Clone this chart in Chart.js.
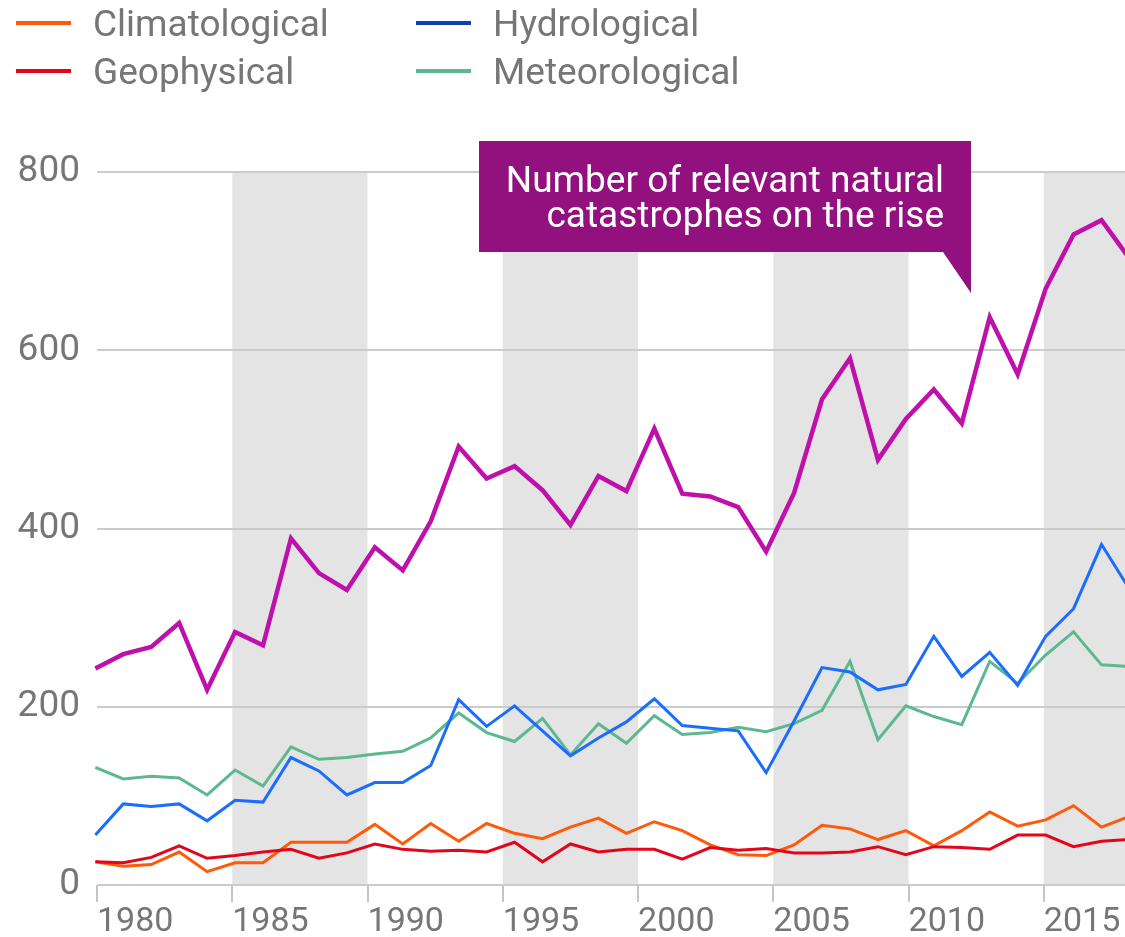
<!DOCTYPE html>
<html>
<head>
<meta charset="utf-8">
<script src="https://cdn.jsdelivr.net/npm/chart.js@4.4.1/dist/chart.umd.min.js"></script>
<style>
  html, body { margin:0; padding:0; background:#fff; }
  #wrap { position:relative; width:1125px; height:937px; }
</style>
</head>
<body>
<div id="wrap"><canvas id="chart" width="1125" height="937"></canvas></div>
<script>
// ==== DATA ====
const years = [1980,1981,1982,1983,1984,1985,1986,1987,1988,1989,
               1990,1991,1992,1993,1994,1995,1996,1997,1998,1999,
               2000,2001,2002,2003,2004,2005,2006,2007,2008,2009,
               2010,2011,2012,2013,2014,2015,2016,2017];

const total          = [243,259,267,294,219,284,269,389,350,331,
                        379,353,408,492,456,470,443,404,459,442,
                        512,439,436,424,374,440,545,591,477,523,
                        556,518,637,573,669,730,746,703];
const climatological = [26,21,23,37,15,25,25,48,48,48,
                        68,46,69,49,69,58,52,65,75,58,
                        71,61,45,34,33,45,67,63,51,61,
                        44,61,82,66,73,89,65,77];
const geophysical    = [26,25,31,44,30,33,37,40,30,36,
                        46,40,38,39,37,48,26,46,37,40,
                        40,29,42,39,41,36,36,37,43,34,
                        43,42,40,56,56,43,49,51];
const hydrological   = [56,91,88,91,72,95,93,143,128,101,
                        115,115,134,208,178,201,173,145,165,183,
                        209,179,176,173,126,184,244,239,219,225,
                        279,234,261,224,279,310,382,332];
const meteorological = [132,119,122,120,101,129,111,155,141,143,
                        147,150,165,193,171,161,187,146,181,159,
                        190,169,171,177,172,181,196,251,163,201,
                        189,180,251,226,258,284,247,245];

const xTicks = [1980,1985,1990,1995,2000,2005,2010,2015];
const yTicks = [0,200,400,600,800];
const shaded = [[1985,1990],[1995,2000],[2005,2010],[2015,2020]];

const legendItems = [
  { label:"Climatological", color:"#ff5a0a" },
  { label:"Geophysical",    color:"#e2061c" },
  { label:"Hydrological",   color:"#0d40b0" },
  { label:"Meteorological", color:"#5cb98f" }
];
const noteLines = ["Number of relevant natural", "catastrophes on the rise"];

// ==== STYLE ====
const FONT = "Roboto, 'Liberation Sans', sans-serif";
const GREY_TEXT = "#767676";

const pts = arr => arr.map((v,i)=>({ x: years[i], y: v }));

// shaded 5-year bands behind everything
const bandsPlugin = {
  id: "bands",
  beforeDraw(chart){
    const { ctx, chartArea:a, scales:{ x } } = chart;
    ctx.save();
    ctx.fillStyle = "#e4e4e4";
    shaded.forEach(([s,e])=>{
      const l = Math.max(x.getPixelForValue(s), a.left);
      const r = Math.min(x.getPixelForValue(e), a.right);
      if (r > l) ctx.fillRect(l, a.top, r-l, a.bottom-a.top);
    });
    ctx.restore();
  }
};

// legend (two columns) + purple callout
const decoPlugin = {
  id: "deco",
  afterDraw(chart){
    const { ctx } = chart;
    ctx.save();
    // legend
    ctx.font = `37px ${FONT}`;
    ctx.textBaseline = "alphabetic";
    ctx.textAlign = "left";
    legendItems.forEach((it, i)=>{
      const col = Math.floor(i/2), row = i%2;
      const lx = col ? 416 : 16;
      const ly = row ? 71 : 23;
      ctx.strokeStyle = it.color;
      ctx.lineWidth = 4;
      ctx.beginPath(); ctx.moveTo(lx, ly); ctx.lineTo(lx+55, ly); ctx.stroke();
      ctx.fillStyle = GREY_TEXT;
      ctx.fillText(it.label, col ? 493 : 93, row ? 84 : 36);
    });

    // callout box
    const L = 479, R = 971, T = 141, B = 252;
    ctx.fillStyle = "#93117e";
    ctx.beginPath();
    ctx.moveTo(L, T); ctx.lineTo(R, T); ctx.lineTo(R, 293);
    ctx.lineTo(943, B); ctx.lineTo(L, B); ctx.closePath();
    ctx.fill();
    ctx.fillStyle = "#ffffff";
    ctx.font = `37px ${FONT}`;
    ctx.textAlign = "right";
    ctx.fillText(noteLines[0], 944, 192);
    ctx.fillText(noteLines[1], 944, 227);
    ctx.restore();
  }
};

const line = (label, data, color, width) => ({
  label, data: pts(data), borderColor: color, backgroundColor: color,
  borderWidth: width, pointRadius: 0, tension: 0, xAxisID: "xd", clip: false
});

new Chart(document.getElementById("chart"), {
  type: "line",
  data: {
    datasets: [
      line("Total", total, "#bf10ab", 4.5),
      line("Geophysical", geophysical, "#e2061c", 3),
      line("Climatological", climatological, "#ff5a0a", 3),
      line("Hydrological", hydrological, "#1a6dff", 3),
      line("Meteorological", meteorological, "#5cb98f", 3)
    ]
  },
  options: {
    responsive: false,
    animation: false,
    devicePixelRatio: 1,
    layout: { padding: { top: 172, left: 0, right: 0, bottom: 0 } },
    plugins: { legend: { display: false }, tooltip: { enabled: false } },
    scales: {
      // data axis (hidden)
      xd: {
        type: "linear", display: false, position: "bottom",
        min: 1980.06, max: 2016.84
      },
      // year ticks
      x: {
        type: "linear", position: "bottom", min: 1980, max: 2018,
        afterBuildTicks: s => { s.ticks = xTicks.map(v=>({ value:v })); },
        afterFit: s => { s.height = 52; },
        ticks: {
          callback: v => String(v), align: "start", autoSkip: false,
          maxRotation: 0, padding: 0, color: GREY_TEXT,
          font: { family: FONT, size: 34 }
        },
        grid: { drawOnChartArea: false, drawTicks: true, tickLength: 17, color: "#c4c4c4", lineWidth: 2 },
        border: { display: false }
      },
      y: {
        min: 0, max: 800,
        afterBuildTicks: s => { s.ticks = yTicks.map(v=>({ value:v })); },
        afterFit: s => { s.width = 97; },
        ticks: { padding: 17, color: GREY_TEXT, font: { family: FONT, size: 37 } },
        grid: { drawTicks: false, color: "#cbcbcb", lineWidth: 2 },
        border: { display: false }
      }
    }
  },
  plugins: [bandsPlugin, decoPlugin]
});
</script>
</body>
</html>
